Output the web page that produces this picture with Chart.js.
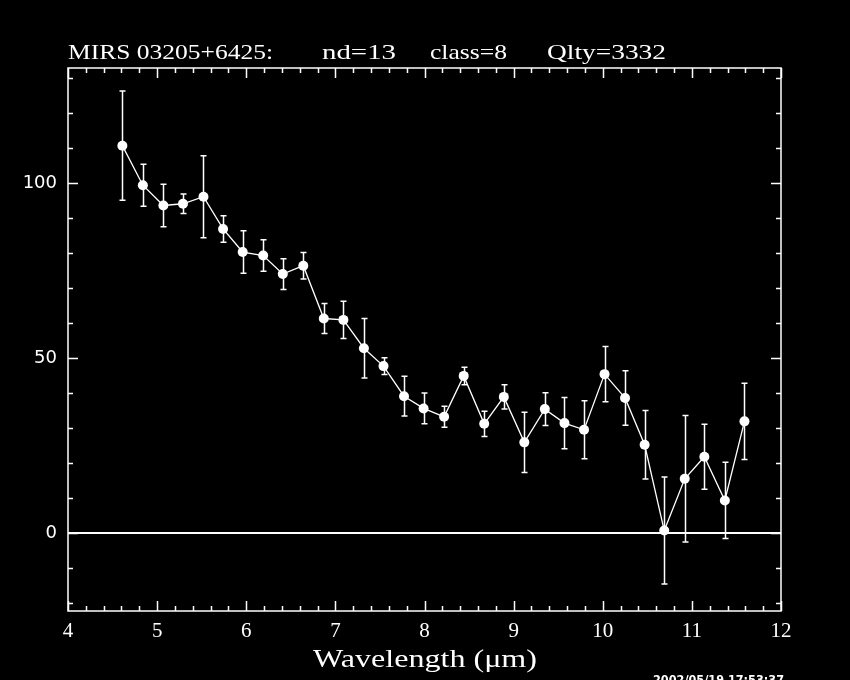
<!DOCTYPE html>
<html>
<head>
<meta charset="utf-8">
<script src="https://cdn.jsdelivr.net/npm/chart.js@4"></script>
<style>
  html, body { margin: 0; padding: 0; background: #000; }
  #wrap { width: 850px; height: 680px; }
</style>
</head>
<body>
<div id="wrap"><canvas id="myChart" width="850" height="680"></canvas></div>
<script>
// MIRS spectrum
var wavelengths = [4.61, 4.84, 5.07, 5.29, 5.52, 5.74, 5.96, 6.19, 6.41, 6.64, 6.87, 7.09, 7.32, 7.54,
    7.77, 7.99, 8.22, 8.44, 8.67, 8.89, 9.12, 9.35, 9.57, 9.79, 10.02, 10.25, 10.47, 10.69,
    10.92, 11.14, 11.37, 11.59];
var flux = [110.7, 99.4, 93.6, 94.1, 96.1, 86.9, 80.3, 79.3, 74.0, 76.4, 61.3, 60.9, 52.8, 47.7,
    39.1, 35.6, 33.2, 44.9, 31.2, 38.9, 25.9, 35.4, 31.4, 29.5, 45.4, 38.6, 25.2, 0.7,
    15.5, 21.8, 9.3, 31.9];
var fluxErr = [15.6, 6.0, 6.1, 2.8, 11.7, 3.8, 6.1, 4.5, 4.4, 3.8, 4.3, 5.3, 8.5, 2.4,
    5.7, 4.4, 3.0, 2.5, 3.6, 3.5, 8.6, 4.7, 7.3, 8.3, 7.9, 7.8, 9.8, 15.3,
    18.1, 9.3, 10.9, 10.9];
var xTicks = [4, 5, 6, 7, 8, 9, 10, 11, 12];
var yTicks = [0, 50, 100];
var titleParts = ['MIRS 03205+6425:', 'nd=13', 'class=8', 'Qlty=3332'];
var xTitle = 'Wavelength (\u03bcm)';
var stamp = '2002/05/19 17:53:37';

var points = [];
for (var i = 0; i < wavelengths.length; i++) {
    points.push({ x: wavelengths[i], y: flux[i] });
}

// draw text squeezed/stretched to a given width
function fitText(ctx, text, x, y, w) {
    var m = ctx.measureText(text).width;
    ctx.save();
    ctx.translate(x, y);
    ctx.scale(w / m, 1);
    ctx.fillText(text, 0, 0);
    ctx.restore();
}

var pgplot = {
    id: 'pgplot',
    beforeDraw: function (chart) {
        var ctx = chart.ctx;
        ctx.save();
        ctx.fillStyle = '#000';
        ctx.fillRect(0, 0, chart.width, chart.height);
        ctx.restore();
    },
    beforeDatasetsDraw: function (chart) {
        var ctx = chart.ctx, xs = chart.scales.x, ys = chart.scales.y, a = chart.chartArea;
        ctx.save();
        ctx.strokeStyle = '#fff';
        // zero line
        ctx.lineWidth = 2;
        ctx.beginPath();
        ctx.moveTo(a.left, ys.getPixelForValue(0));
        ctx.lineTo(a.right, ys.getPixelForValue(0));
        ctx.stroke();
        // error bars
        ctx.lineWidth = 1.5;
        for (var i = 0; i < wavelengths.length; i++) {
            var px = Math.round(xs.getPixelForValue(wavelengths[i])) + 0.5;
            var top = ys.getPixelForValue(flux[i] + fluxErr[i]);
            var bot = ys.getPixelForValue(flux[i] - fluxErr[i]);
            ctx.beginPath();
            ctx.moveTo(px, top);
            ctx.lineTo(px, bot);
            ctx.moveTo(px - 3, top);
            ctx.lineTo(px + 3, top);
            ctx.moveTo(px - 3, bot);
            ctx.lineTo(px + 3, bot);
            ctx.stroke();
        }
        ctx.restore();
    },
    afterDraw: function (chart) {
        var ctx = chart.ctx, xs = chart.scales.x, ys = chart.scales.y, a = chart.chartArea;
        ctx.save();
        ctx.strokeStyle = '#fff';
        ctx.lineWidth = 1.5;
        ctx.strokeRect(a.left, a.top, a.right - a.left, a.bottom - a.top);
        ctx.beginPath();
        // x ticks, bottom and top, pointing inward
        for (var k = 0; k <= 40; k++) {
            var v = 4 + k * 0.2;
            var len = (k % 5 === 0) ? 10 : 5;
            var px = Math.round(xs.getPixelForValue(v)) + 0.5;
            ctx.moveTo(px, a.bottom);
            ctx.lineTo(px, a.bottom - len);
            ctx.moveTo(px, a.top);
            ctx.lineTo(px, a.top + len);
        }
        // y ticks, left and right
        for (var t = -20; t <= 130; t += 10) {
            var ln = (t % 50 === 0) ? 10 : 5;
            var py = Math.round(ys.getPixelForValue(t)) + 0.5;
            ctx.moveTo(a.left, py);
            ctx.lineTo(a.left + ln, py);
            ctx.moveTo(a.right, py);
            ctx.lineTo(a.right - ln, py);
        }
        ctx.stroke();

        ctx.fillStyle = '#fff';
        ctx.textBaseline = 'alphabetic';
        ctx.textAlign = 'left';
        ctx.font = '21px "Liberation Serif"';
        var tx = [68, 322, 430, 547];
        var tw = [205, 74, 77, 119];
        for (var j = 0; j < titleParts.length; j++) {
            fitText(ctx, titleParts[j], tx[j], 59, tw[j]);
        }
        ctx.font = '25px "Liberation Serif"';
        fitText(ctx, xTitle, 313, 667, 224);
        ctx.font = 'bold 12px "DejaVu Sans"';
        fitText(ctx, stamp, 653, 684, 131);
        ctx.restore();
    }
};

var ctx = document.getElementById('myChart');
var myChart = new Chart(ctx, {
    type: 'scatter',
    data: {
        datasets: [{
            data: points,
            showLine: true,
            borderColor: '#fff',
            borderWidth: 1.3,
            backgroundColor: '#fff',
            pointBackgroundColor: '#fff',
            pointBorderColor: '#fff',
            pointRadius: 5,
            pointBorderWidth: 0
        }]
    },
    plugins: [pgplot],
    options: {
        responsive: false,
        animation: false,
        layout: { padding: { top: 68, right: 69, left: 0, bottom: 0 } },
        plugins: {
            legend: { display: false },
            title: { display: false },
            tooltip: { enabled: false }
        },
        scales: {
            x: {
                type: 'linear',
                min: 4,
                max: 12,
                afterBuildTicks: function (scale) {
                    scale.ticks = xTicks.map(function (v) { return { value: v }; });
                },
                afterFit: function (scale) { scale.height = 69; },
                grid: { display: false, drawTicks: false },
                border: { display: false },
                ticks: {
                    color: '#fff',
                    padding: 8,
                    maxRotation: 0,
                    font: { family: 'Liberation Serif', size: 21 }
                }
            },
            y: {
                type: 'linear',
                min: -22.3,
                max: 132.9,
                afterBuildTicks: function (scale) {
                    scale.ticks = yTicks.map(function (v) { return { value: v }; });
                },
                afterFit: function (scale) { scale.width = 68; },
                grid: { display: false, drawTicks: false },
                border: { display: false },
                ticks: {
                    color: '#fff',
                    padding: 11,
                    font: { family: 'DejaVu Sans', size: 18 }
                }
            }
        }
    }
});
</script>
</body>
</html>
